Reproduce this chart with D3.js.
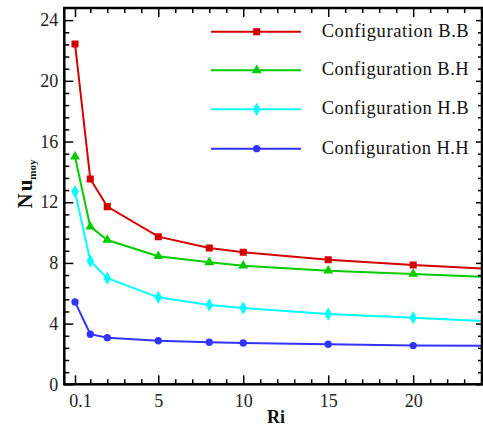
<!DOCTYPE html>
<html>
<head>
<meta charset="utf-8">
<script src="https://cdn.jsdelivr.net/npm/d3@7"></script>
<style>
  html, body { margin: 0; padding: 0; background: #fff; }
  svg { display: block; }
  text { font-family: "Liberation Serif", "Times New Roman", serif; }
</style>
</head>
<body>
<svg id="chart" width="483" height="426"></svg>
<script>
// ---- data ----
const ri = [0.1, 1, 2, 5, 8, 10, 15, 20, 25];
const configBB = [22.43, 13.53, 11.71, 9.73, 8.98, 8.70, 8.21, 7.86, 7.57];
const configBH = [15.0, 10.39, 9.51, 8.44, 8.04, 7.82, 7.49, 7.27, 7.04];
const configHB = [12.70, 8.13, 6.99, 5.73, 5.23, 5.03, 4.63, 4.39, 4.13];
const configHH = [5.43, 3.30, 3.07, 2.87, 2.77, 2.72, 2.64, 2.55, 2.54];
const seriesNames = ["Configuration B.B", "Configuration B.H", "Configuration H.B", "Configuration H.H"];
const xMajorTicks = [0.1, 5, 10, 15, 20];
const xTickLabels = ["0.1", "5", "10", "15", "20"];
const xMinorTicks = [1, 2, 3, 4, 6, 7, 8, 9, 11, 12, 13, 14, 16, 17, 18, 19, 21, 22, 23, 24];
const yMajorTicks = [0, 4, 8, 12, 16, 20, 24];
const yMinorTicks = d3.range(0, 24.8, 0.8).filter(v => Math.abs(v / 4 - Math.round(v / 4)) > 1e-6);

(function () {
const FONT = "Liberation Serif, Times New Roman, serif";
const colors = ["#d40000", "#00cc00", "#00ffff", "#3333ff"];
const shapes = [d3.symbolSquare, d3.symbolTriangle, d3.symbolDiamond, d3.symbolCircle];
const sizes = [50, 42, 50, 42];
const allSeries = [configBB, configBH, configHB, configHH];

const svg = d3.select("#chart");
const L = 64.3, R = 482, T = 8, B = 384.3;
const x = d3.scaleLinear().domain([-0.53, 24.05]).range([L, R]);
const y = d3.scaleLinear().domain([0, 24.8]).range([B, T]);

svg.append("defs").append("clipPath").attr("id", "clip")
  .append("rect").attr("x", L).attr("y", T).attr("width", R - L).attr("height", B - T);

// ---- data lines ----
const plot = svg.append("g").attr("clip-path", "url(#clip)");
allSeries.forEach((vals, i) => {
  const pts = ri.map((r, j) => [r, vals[j]]);
  plot.append("path")
    .attr("d", d3.line().x(d => x(d[0])).y(d => y(d[1]))(pts))
    .attr("fill", "none").attr("stroke", colors[i]).attr("stroke-width", 2);
  plot.selectAll(null).data(pts).enter().append("path")
    .attr("d", d3.symbol().type(shapes[i]).size(sizes[i]))
    .attr("transform", d => `translate(${x(d[0])},${y(d[1])})`)
    .attr("fill", colors[i]);
});

// ---- axes ----
const gBottom = svg.append("g").attr("transform", `translate(0,${B})`)
  .call(d3.axisBottom(x).tickValues(xMajorTicks).tickSize(-9).tickFormat((d, i) => xTickLabels[i]).tickPadding(10));
gBottom.selectAll(".tick text").attr("dx", (d, i) => i === 0 ? 5 : 0);
svg.append("g").attr("transform", `translate(0,${B})`)
  .call(d3.axisBottom(x).tickValues(xMinorTicks).tickSize(-5).tickFormat(""));
svg.append("g").attr("transform", `translate(0,${T})`)
  .call(d3.axisTop(x).tickValues(xMajorTicks).tickSize(-9).tickFormat(""));
svg.append("g").attr("transform", `translate(0,${T})`)
  .call(d3.axisTop(x).tickValues(xMinorTicks).tickSize(-5).tickFormat(""));

svg.append("g").attr("transform", `translate(${L},0)`)
  .call(d3.axisLeft(y).tickValues(yMajorTicks).tickSize(-9).tickPadding(6).tickFormat(d3.format("d")));
svg.append("g").attr("transform", `translate(${L},0)`)
  .call(d3.axisLeft(y).tickValues(yMinorTicks).tickSize(-5).tickFormat(""));
svg.append("g").attr("transform", `translate(${R},0)`)
  .call(d3.axisRight(y).tickValues(yMajorTicks).tickSize(-6).tickFormat(""));
svg.append("g").attr("transform", `translate(${R},0)`)
  .call(d3.axisRight(y).tickValues(yMinorTicks).tickSize(-4).tickFormat(""));

svg.selectAll(".domain").remove();
svg.selectAll(".tick line").attr("stroke", "#000").attr("stroke-width", 1.5);
svg.selectAll(".tick text").attr("fill", "#222").attr("font-size", 18).attr("font-family", FONT);

// frame
svg.append("rect").attr("x", L).attr("y", T).attr("width", R - L).attr("height", B - T)
  .attr("fill", "none").attr("stroke", "#000").attr("stroke-width", 2.5);

// ---- axis titles ----
svg.append("text").attr("x", 276).attr("y", 423).attr("text-anchor", "middle")
  .attr("font-family", FONT).attr("font-size", 18).attr("font-weight", "bold").attr("fill", "#111").text("Ri");

const yl = svg.append("text").attr("transform", "translate(32,184) rotate(-90)")
  .attr("text-anchor", "middle").attr("font-family", FONT).attr("font-size", 21)
  .attr("font-weight", "bold").attr("fill", "#111");
yl.append("tspan").text("N");
yl.append("tspan").attr("dx", 2).text("u");
yl.append("tspan").attr("font-size", 11).attr("dy", 4).text("moy");

// ---- legend ----
const legY = [31.7, 70.3, 109.3, 148.7];
seriesNames.forEach((name, i) => {
  const g = svg.append("g");
  g.append("line").attr("x1", 211).attr("x2", 301).attr("y1", legY[i]).attr("y2", legY[i])
    .attr("stroke", colors[i]).attr("stroke-width", 2);
  g.append("path").attr("d", d3.symbol().type(shapes[i]).size(sizes[i]))
    .attr("transform", `translate(256.7,${legY[i]})`).attr("fill", colors[i]);
  g.append("text").attr("x", 321.7).attr("y", legY[i] + 5).attr("font-family", FONT)
    .attr("font-size", 18.5).attr("textLength", 147).attr("lengthAdjust", "spacing")
    .attr("fill", "#111").text(name);
});
})();
</script>
</body>
</html>
